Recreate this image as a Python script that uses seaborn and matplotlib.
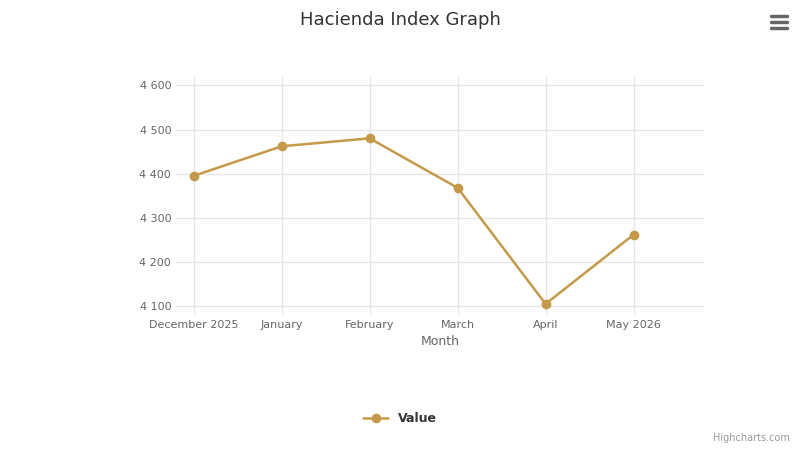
import matplotlib
matplotlib.use("Agg")
import matplotlib.pyplot as plt
import seaborn as sns
import pandas as pd
from matplotlib.ticker import FuncFormatter

months = ["December 2025", "January", "February", "March", "April", "May 2026"]
values = [4395, 4462, 4480, 4368, 4105, 4262]
yticks = [4100, 4200, 4300, 4400, 4500, 4600]

sns.set_theme(style="white")
plt.rcParams['font.family'] = ['DejaVu Sans']
df = pd.DataFrame({"Month": months, "Value": values})

fig = plt.figure(figsize=(8, 4.5), dpi=100)
ax = fig.add_axes([0.22, 0.30, 0.66, 0.53])
color = "#C49A4A"
sns.lineplot(data=df, x="Month", y="Value", ax=ax, color=color, marker="o",
             markersize=7, markeredgewidth=0, linewidth=1.8, label="Value", sort=False)
ax.set_ylim(4080, 4620)
ax.set_yticks(yticks)
ax.yaxis.set_major_formatter(FuncFormatter(lambda v, p: f"{int(v):,}".replace(",", " ")))
ax.set_xlim(-0.2, 5.8)
ax.grid(True, color="#e6e6e6", linewidth=1)
for s in ax.spines.values():
    s.set_visible(False)
ax.tick_params(colors="#666666", labelsize=8, length=0)
ax.set_ylabel("")
ax.set_xlabel("Month", color="#666666", fontsize=9)
ax.legend_.remove()
fig.suptitle("Hacienda Index Graph", y=0.975, fontsize=13, color="#333333")
h, l = ax.get_legend_handles_labels()
fig.legend(h, l, loc="lower center", bbox_to_anchor=(0.5, 0.03), frameon=False,
           prop={"weight": "bold", "size": 9}, labelcolor="#333333")
fig.text(0.987, 0.015, "Highcharts.com", ha="right", va="bottom", fontsize=7, color="#999999")
for yy in [0.965, 0.951, 0.937]:
    fig.add_artist(plt.Line2D([0.964, 0.984], [yy, yy], color="#666666", linewidth=2.5,
                              solid_capstyle="round"))
fig.savefig("out.png", dpi=100)
